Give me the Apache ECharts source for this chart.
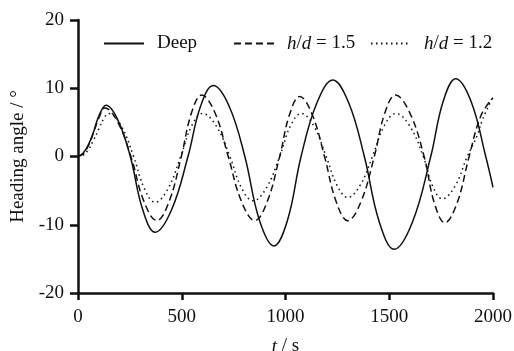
<!DOCTYPE html>
<html>
<head>
<meta charset="utf-8">
<script src="https://cdn.jsdelivr.net/npm/echarts@6/dist/echarts.min.js"></script>
<style>html,body{margin:0;padding:0;background:#fff;}#c{width:514px;height:351px;}</style>
</head>
<body>
<div id="c"></div>
<script>
const xTicks = [0, 500, 1000, 1500, 2000];
const yTicks = [-20, -10, 0, 10, 20];
const seriesNames = ['Deep', 'h/d = 1.5', 'h/d = 1.2'];

const deep = [[0,0],[25,0.5],[50,1.7],[75,3.6],[100,5.9],[135,7.5],[193,5.3],[252,0],[312,-7.8],[372,-11.1],
  [451,-7.8],[530,0],[591,7.4],[652,10.4],[728,7.4],[804,0],[874,-9.3],[944,-13.1],
  [1010,-9.3],[1075,0],[1152,7.9],[1228,11.2],[1304,7.9],[1380,0],[1452,-9.6],[1524,-13.6],
  [1612,-9.6],[1700,0],[1760,8.1],[1820,11.4],[1894,8.1],[1965,0],[2000,-4.5]];

const hd15 = [[0,0],[25,0.4],[50,1.6],[75,3.5],[100,5.6],[130,7.1],[192,5.0],[255,0],[318,-6.6],[380,-9.4],
  [439,-6.6],[498,0],[547,6.4],[596,9.0],[660,6.4],[724,0],[788,-6.6],[852,-9.4],
  [912,-6.6],[972,0],[1020,6.2],[1068,8.8],[1128,6.2],[1188,0],[1244,-6.6],[1300,-9.4],
  [1364,-6.6],[1428,0],[1479,6.4],[1530,9.0],[1599,6.4],[1668,0],[1718,-6.9],[1768,-9.7],
  [1826,-6.9],[1885,0],[1942,6.0],[2000,8.6]];

const hd12 = [[0,0],[25,0.2],[50,1.0],[75,2.4],[100,4.0],[125,5.6],[148,6.3],[208,4.5],[268,0],[320,-4.7],[372,-6.7],
  [434,-4.7],[495,0],[548,4.5],[600,6.3],[666,4.5],[732,0],[788,-4.6],[844,-6.5],
  [908,-4.6],[972,0],[1024,4.5],[1076,6.3],[1136,4.5],[1196,0],[1248,-4.2],[1300,-6.0],
  [1360,-4.2],[1419,0],[1476,4.5],[1532,6.3],[1598,4.5],[1664,0],[1710,-4.4],[1756,-6.2],
  [1816,-4.4],[1876,0],[1924,3.1],[1948,5.3],[2000,8.8]];

const FONT = 'Liberation Serif';
const ink = '#111';
const chart = echarts.init(document.getElementById('c'), null, {renderer: 'canvas'});

const rich = {
  n: {fontFamily: FONT, fontSize: 19, color: ink},
  i: {fontFamily: FONT, fontSize: 19, color: ink, fontStyle: 'italic'}
};
function legendFmt(name) {
  if (name === 'Deep') return '{n|Deep}';
  const parts = name.split(' = ');
  return '{i|h}{n|/}{i|d}{n| = ' + parts[1] + '}';
}
function mkLegend(name, left) {
  return {
    data: [name], left: left, top: 34, padding: 0, itemWidth: 40, itemHeight: 14,
    formatter: legendFmt, selectedMode: false,
    itemStyle: {opacity: 0},
    textStyle: {fontFamily: FONT, fontSize: 19, color: ink, padding: [0, 0, 0, 8], rich: rich}
  };
}

chart.setOption({
  animation: false,
  backgroundColor: '#fff',
  grid: {left: 78, right: 21, top: 20, bottom: 58, outerBoundsMode: 'none', containLabel: false},
  legend: [mkLegend(seriesNames[0], 103), mkLegend(seriesNames[1], 233), mkLegend(seriesNames[2], 370)],
  xAxis: {
    type: 'value', min: xTicks[0], max: xTicks[xTicks.length - 1], interval: 500,
    name: '{i|t}{n| / s}', nameLocation: 'middle', nameGap: 44,
    nameTextStyle: {rich: rich},
    axisLine: {onZero: false, lineStyle: {color: ink, width: 2.5}},
    axisTick: {length: 7, lineStyle: {color: ink, width: 2.5}},
    axisLabel: {fontFamily: FONT, fontSize: 19, color: ink, margin: 15, formatter: v => String(v)},
    splitLine: {show: false}
  },
  yAxis: {
    type: 'value', min: yTicks[0], max: yTicks[yTicks.length - 1], interval: 10,
    name: 'Heading angle / °', nameLocation: 'middle', nameGap: 46,
    nameTextStyle: {fontFamily: FONT, fontSize: 19, color: ink},
    axisLine: {show: true, lineStyle: {color: ink, width: 2.5}},
    axisTick: {show: true, length: 8, lineStyle: {color: ink, width: 2.5}},
    axisLabel: {fontFamily: FONT, fontSize: 19, color: ink, margin: 14, formatter: v => String(v)},
    splitLine: {show: false}
  },
  series: [
    {name: seriesNames[0], type: 'line', data: deep, smooth: 0.4, symbol: 'none',
     lineStyle: {color: ink, width: 1.5, type: 'solid'}, itemStyle: {color: ink}},
    {name: seriesNames[1], type: 'line', data: hd15, smooth: 0.4, symbol: 'none',
     lineStyle: {color: ink, width: 1.5, type: [7, 4]}, itemStyle: {color: ink}},
    {name: seriesNames[2], type: 'line', data: hd12, smooth: 0.4, symbol: 'none',
     lineStyle: {color: ink, width: 1.5, type: [1.5, 3.5]}, itemStyle: {color: ink}}
  ]
});
</script>
</body>
</html>
